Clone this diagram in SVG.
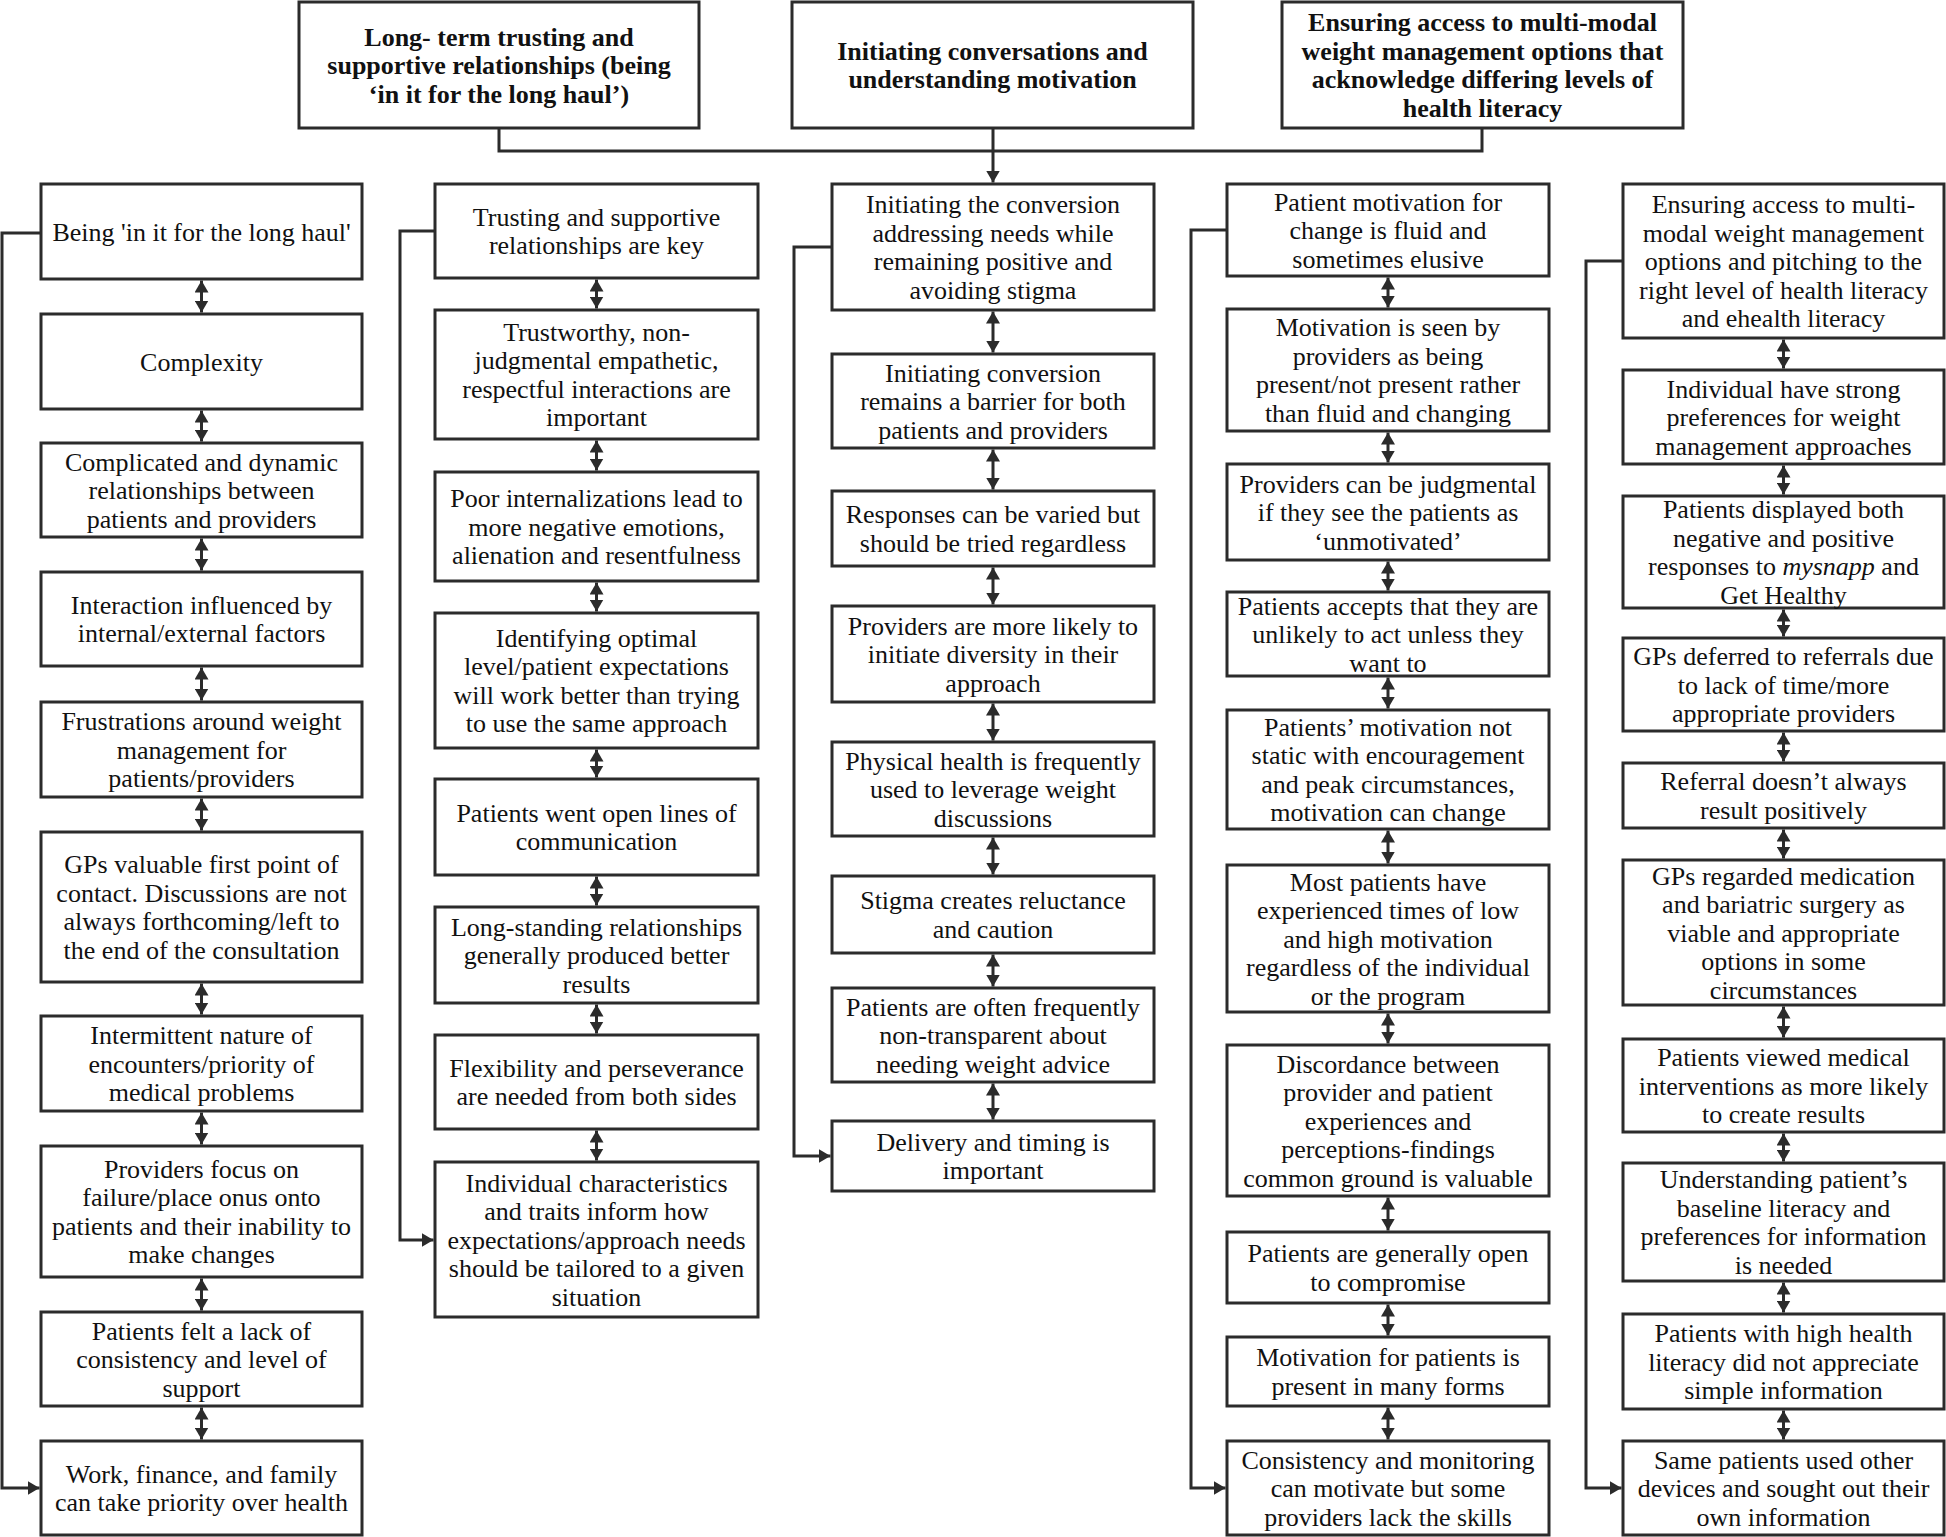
<svg xmlns="http://www.w3.org/2000/svg" width="1946" height="1537" viewBox="0 0 1946 1537">
<style>
.box{fill:#fff;stroke:#2b2b2b;stroke-width:3}
.t{font-family:"Liberation Serif","Times New Roman",serif;font-size:26px;fill:#111;text-anchor:middle}
.h{font-weight:bold}
.c{fill:none;stroke:#2b2b2b;stroke-width:3}
.d{fill:none;stroke:#2b2b2b;stroke-width:3;marker-start:url(#ah);marker-end:url(#ah)}
.e{fill:none;stroke:#2b2b2b;stroke-width:3;marker-end:url(#ah)}
</style>
<defs>
<marker id="ah" viewBox="0 0 12 14" refX="12" refY="7" markerWidth="12" markerHeight="14" markerUnits="userSpaceOnUse" orient="auto-start-reverse"><path d="M0,0 L12,7 L0,14 z" fill="#2b2b2b"/></marker>
</defs>
<rect width="1946" height="1537" fill="#fff"/>

<g id="connectors">
<path class="c" d="M499,128 V151 H1482 V128"/>
<path class="e" d="M993,128 V182.5"/>
<path class="e" d="M41,233 H2 V1488 H39.5"/>
<path class="e" d="M435,231 H400 V1240 H433.5"/>
<path class="e" d="M832,247 H794 V1156 H830.5"/>
<path class="e" d="M1227,230 H1191 V1488 H1225.5"/>
<path class="e" d="M1623,261 H1586 V1488 H1621.5"/>
<!-- col1 -->
<path class="d" d="M201.5,280.5 V312.5"/>
<path class="d" d="M201.5,410.5 V441.5"/>
<path class="d" d="M201.5,538.5 V570.5"/>
<path class="d" d="M201.5,667.5 V700.5"/>
<path class="d" d="M201.5,798.5 V830.5"/>
<path class="d" d="M201.5,983.5 V1014.5"/>
<path class="d" d="M201.5,1112.5 V1144.5"/>
<path class="d" d="M201.5,1278.5 V1310.5"/>
<path class="d" d="M201.5,1407.5 V1439.5"/>
<!-- col2 -->
<path class="d" d="M596.5,279.5 V308.5"/>
<path class="d" d="M596.5,440.5 V470.5"/>
<path class="d" d="M596.5,582.5 V611.5"/>
<path class="d" d="M596.5,749.5 V777.5"/>
<path class="d" d="M596.5,876.5 V905.5"/>
<path class="d" d="M596.5,1004.5 V1033.5"/>
<path class="d" d="M596.5,1130.5 V1160.5"/>
<!-- col3 -->
<path class="d" d="M993,311.5 V352.5"/>
<path class="d" d="M993,449.5 V489.5"/>
<path class="d" d="M993,567.5 V604.5"/>
<path class="d" d="M993,703.5 V740.5"/>
<path class="d" d="M993,837.5 V874.5"/>
<path class="d" d="M993,954.5 V986.5"/>
<path class="d" d="M993,1083.5 V1119.5"/>
<!-- col4 -->
<path class="d" d="M1388,277.5 V307.5"/>
<path class="d" d="M1388,432.5 V462.5"/>
<path class="d" d="M1388,561.5 V590.5"/>
<path class="d" d="M1388,677.5 V708.5"/>
<path class="d" d="M1388,830.5 V863.5"/>
<path class="d" d="M1388,1013.5 V1043.5"/>
<path class="d" d="M1388,1197.5 V1230.5"/>
<path class="d" d="M1388,1304.5 V1335.5"/>
<path class="d" d="M1388,1407.5 V1439.5"/>
<!-- col5 -->
<path class="d" d="M1783.5,339.5 V368.5"/>
<path class="d" d="M1783.5,465.5 V494.5"/>
<path class="d" d="M1783.5,609.5 V636.5"/>
<path class="d" d="M1783.5,732.5 V761.5"/>
<path class="d" d="M1783.5,829.5 V858.5"/>
<path class="d" d="M1783.5,1006.5 V1037.5"/>
<path class="d" d="M1783.5,1133.5 V1161.5"/>
<path class="d" d="M1783.5,1282.5 V1312.5"/>
<path class="d" d="M1783.5,1410.5 V1439.5"/>
</g>

<!-- headers -->
<g id="h1"><rect class="box" x="299" y="2" width="400" height="126"/><text class="t h" x="499" y="45.5"><tspan x="499">Long- term trusting and</tspan><tspan x="499" dy="28.5">supportive relationships (being</tspan><tspan x="499" dy="28.5">‘in it for the long haul’)</tspan></text></g>
<g id="h2"><rect class="box" x="792" y="2" width="401" height="126"/><text class="t h" x="992.5" y="59.75"><tspan x="992.5">Initiating conversations and</tspan><tspan x="992.5" dy="28.5">understanding motivation</tspan></text></g>
<g id="h3"><rect class="box" x="1282" y="2" width="401" height="126"/><text class="t h" x="1482.5" y="31.25"><tspan x="1482.5">Ensuring access to multi-modal</tspan><tspan x="1482.5" dy="28.5">weight management options that</tspan><tspan x="1482.5" dy="28.5">acknowledge differing levels of</tspan><tspan x="1482.5" dy="28.5">health literacy</tspan></text></g>

<!-- column 1 -->
<g id="c1n1"><rect class="box" x="41" y="184" width="321" height="95"/><text class="t" x="201.5" y="240.5">Being 'in it for the long haul'</text></g>
<g id="c1n2"><rect class="box" x="41" y="314" width="321" height="95"/><text class="t" x="201.5" y="370.5">Complexity</text></g>
<g id="c1n3"><rect class="box" x="41" y="443" width="321" height="94"/><text class="t" x="201.5" y="470.5"><tspan x="201.5">Complicated and dynamic</tspan><tspan x="201.5" dy="28.5">relationships between</tspan><tspan x="201.5" dy="28.5">patients and providers</tspan></text></g>
<g id="c1n4"><rect class="box" x="41" y="572" width="321" height="94"/><text class="t" x="201.5" y="613.75"><tspan x="201.5">Interaction influenced by</tspan><tspan x="201.5" dy="28.5">internal/external factors</tspan></text></g>
<g id="c1n5"><rect class="box" x="41" y="702" width="321" height="95"/><text class="t" x="201.5" y="730"><tspan x="201.5">Frustrations around weight</tspan><tspan x="201.5" dy="28.5">management for</tspan><tspan x="201.5" dy="28.5">patients/providers</tspan></text></g>
<g id="c1n6"><rect class="box" x="41" y="832" width="321" height="150"/><text class="t" x="201.5" y="873.25"><tspan x="201.5">GPs valuable first point of</tspan><tspan x="201.5" dy="28.5">contact. Discussions are not</tspan><tspan x="201.5" dy="28.5">always forthcoming/left to</tspan><tspan x="201.5" dy="28.5">the end of the consultation</tspan></text></g>
<g id="c1n7"><rect class="box" x="41" y="1016" width="321" height="95"/><text class="t" x="201.5" y="1044"><tspan x="201.5">Intermittent nature of</tspan><tspan x="201.5" dy="28.5">encounters/priority of</tspan><tspan x="201.5" dy="28.5">medical problems</tspan></text></g>
<g id="c1n8"><rect class="box" x="41" y="1146" width="321" height="131"/><text class="t" x="201.5" y="1177.75"><tspan x="201.5">Providers focus on</tspan><tspan x="201.5" dy="28.5">failure/place onus onto</tspan><tspan x="201.5" dy="28.5">patients and their inability to</tspan><tspan x="201.5" dy="28.5">make changes</tspan></text></g>
<g id="c1n9"><rect class="box" x="41" y="1312" width="321" height="94"/><text class="t" x="201.5" y="1339.5"><tspan x="201.5">Patients felt a lack of</tspan><tspan x="201.5" dy="28.5">consistency and level of</tspan><tspan x="201.5" dy="28.5">support</tspan></text></g>
<g id="c1n10"><rect class="box" x="41" y="1441" width="321" height="94"/><text class="t" x="201.5" y="1482.75"><tspan x="201.5">Work, finance, and family</tspan><tspan x="201.5" dy="28.5">can take priority over health</tspan></text></g>

<!-- column 2 -->
<g id="c2n1"><rect class="box" x="435" y="184" width="323" height="94"/><text class="t" x="596.5" y="225.75"><tspan x="596.5">Trusting and supportive</tspan><tspan x="596.5" dy="28.5">relationships are key</tspan></text></g>
<g id="c2n2"><rect class="box" x="435" y="310" width="323" height="129"/><text class="t" x="596.5" y="340.75"><tspan x="596.5">Trustworthy, non-</tspan><tspan x="596.5" dy="28.5">judgmental empathetic,</tspan><tspan x="596.5" dy="28.5">respectful interactions are</tspan><tspan x="596.5" dy="28.5">important</tspan></text></g>
<g id="c2n3"><rect class="box" x="435" y="472" width="323" height="109"/><text class="t" x="596.5" y="507"><tspan x="596.5">Poor internalizations lead to</tspan><tspan x="596.5" dy="28.5">more negative emotions,</tspan><tspan x="596.5" dy="28.5">alienation and resentfulness</tspan></text></g>
<g id="c2n4"><rect class="box" x="435" y="613" width="323" height="135"/><text class="t" x="596.5" y="646.75"><tspan x="596.5">Identifying optimal</tspan><tspan x="596.5" dy="28.5">level/patient expectations</tspan><tspan x="596.5" dy="28.5">will work better than trying</tspan><tspan x="596.5" dy="28.5">to use the same approach</tspan></text></g>
<g id="c2n5"><rect class="box" x="435" y="779" width="323" height="96"/><text class="t" x="596.5" y="821.75"><tspan x="596.5">Patients went open lines of</tspan><tspan x="596.5" dy="28.5">communication</tspan></text></g>
<g id="c2n6"><rect class="box" x="435" y="907" width="323" height="96"/><text class="t" x="596.5" y="935.5"><tspan x="596.5">Long-standing relationships</tspan><tspan x="596.5" dy="28.5">generally produced better</tspan><tspan x="596.5" dy="28.5">results</tspan></text></g>
<g id="c2n7"><rect class="box" x="435" y="1035" width="323" height="94"/><text class="t" x="596.5" y="1076.75"><tspan x="596.5">Flexibility and perseverance</tspan><tspan x="596.5" dy="28.5">are needed from both sides</tspan></text></g>
<g id="c2n8"><rect class="box" x="435" y="1162" width="323" height="155"/><text class="t" x="596.5" y="1191.5"><tspan x="596.5">Individual characteristics</tspan><tspan x="596.5" dy="28.5">and traits inform how</tspan><tspan x="596.5" dy="28.5">expectations/approach needs</tspan><tspan x="596.5" dy="28.5">should be tailored to a given</tspan><tspan x="596.5" dy="28.5">situation</tspan></text></g>

<!-- column 3 -->
<g id="c3n1"><rect class="box" x="832" y="184" width="322" height="126"/><text class="t" x="993" y="213.25"><tspan x="993">Initiating the conversion</tspan><tspan x="993" dy="28.5">addressing needs while</tspan><tspan x="993" dy="28.5">remaining positive and</tspan><tspan x="993" dy="28.5">avoiding stigma</tspan></text></g>
<g id="c3n2"><rect class="box" x="832" y="354" width="322" height="94"/><text class="t" x="993" y="381.5"><tspan x="993">Initiating conversion</tspan><tspan x="993" dy="28.5">remains a barrier for both</tspan><tspan x="993" dy="28.5">patients and providers</tspan></text></g>
<g id="c3n3"><rect class="box" x="832" y="491" width="322" height="75"/><text class="t" x="993" y="523.25"><tspan x="993">Responses can be varied but</tspan><tspan x="993" dy="28.5">should be tried regardless</tspan></text></g>
<g id="c3n4"><rect class="box" x="832" y="606" width="322" height="96"/><text class="t" x="993" y="634.5"><tspan x="993">Providers are more likely to</tspan><tspan x="993" dy="28.5">initiate diversity in their</tspan><tspan x="993" dy="28.5">approach</tspan></text></g>
<g id="c3n5"><rect class="box" x="832" y="742" width="322" height="94"/><text class="t" x="993" y="769.5"><tspan x="993">Physical health is frequently</tspan><tspan x="993" dy="28.5">used to leverage weight</tspan><tspan x="993" dy="28.5">discussions</tspan></text></g>
<g id="c3n6"><rect class="box" x="832" y="876" width="322" height="77"/><text class="t" x="993" y="909.25"><tspan x="993">Stigma creates reluctance</tspan><tspan x="993" dy="28.5">and caution</tspan></text></g>
<g id="c3n7"><rect class="box" x="832" y="988" width="322" height="94"/><text class="t" x="993" y="1015.5"><tspan x="993">Patients are often frequently</tspan><tspan x="993" dy="28.5">non-transparent about</tspan><tspan x="993" dy="28.5">needing weight advice</tspan></text></g>
<g id="c3n8"><rect class="box" x="832" y="1121" width="322" height="70"/><text class="t" x="993" y="1150.75"><tspan x="993">Delivery and timing is</tspan><tspan x="993" dy="28.5">important</tspan></text></g>

<!-- column 4 -->
<g id="c4n1"><rect class="box" x="1227" y="184" width="322" height="92"/><text class="t" x="1388" y="210.5"><tspan x="1388">Patient motivation for</tspan><tspan x="1388" dy="28.5">change is fluid and</tspan><tspan x="1388" dy="28.5">sometimes elusive</tspan></text></g>
<g id="c4n2"><rect class="box" x="1227" y="309" width="322" height="122"/><text class="t" x="1388" y="336.25"><tspan x="1388">Motivation is seen by</tspan><tspan x="1388" dy="28.5">providers as being</tspan><tspan x="1388" dy="28.5">present/not present rather</tspan><tspan x="1388" dy="28.5">than fluid and changing</tspan></text></g>
<g id="c4n3"><rect class="box" x="1227" y="464" width="322" height="96"/><text class="t" x="1388" y="492.5"><tspan x="1388">Providers can be judgmental</tspan><tspan x="1388" dy="28.5">if they see the patients as</tspan><tspan x="1388" dy="28.5">‘unmotivated’</tspan></text></g>
<g id="c4n4"><rect class="box" x="1227" y="592" width="322" height="84"/><text class="t" x="1388" y="614.5"><tspan x="1388">Patients accepts that they are</tspan><tspan x="1388" dy="28.5">unlikely to act unless they</tspan><tspan x="1388" dy="28.5">want to</tspan></text></g>
<g id="c4n5"><rect class="box" x="1227" y="710" width="322" height="119"/><text class="t" x="1388" y="735.75"><tspan x="1388">Patients’ motivation not</tspan><tspan x="1388" dy="28.5">static with encouragement</tspan><tspan x="1388" dy="28.5">and peak circumstances,</tspan><tspan x="1388" dy="28.5">motivation can change</tspan></text></g>
<g id="c4n6"><rect class="box" x="1227" y="865" width="322" height="147"/><text class="t" x="1388" y="890.5"><tspan x="1388">Most patients have</tspan><tspan x="1388" dy="28.5">experienced times of low</tspan><tspan x="1388" dy="28.5">and high motivation</tspan><tspan x="1388" dy="28.5">regardless of the individual</tspan><tspan x="1388" dy="28.5">or the program</tspan></text></g>
<g id="c4n7"><rect class="box" x="1227" y="1045" width="322" height="151"/><text class="t" x="1388" y="1072.5"><tspan x="1388">Discordance between</tspan><tspan x="1388" dy="28.5">provider and patient</tspan><tspan x="1388" dy="28.5">experiences and</tspan><tspan x="1388" dy="28.5">perceptions-findings</tspan><tspan x="1388" dy="28.5">common ground is valuable</tspan></text></g>
<g id="c4n8"><rect class="box" x="1227" y="1232" width="322" height="71"/><text class="t" x="1388" y="1262.25"><tspan x="1388">Patients are generally open</tspan><tspan x="1388" dy="28.5">to compromise</tspan></text></g>
<g id="c4n9"><rect class="box" x="1227" y="1337" width="322" height="69"/><text class="t" x="1388" y="1366.25"><tspan x="1388">Motivation for patients is</tspan><tspan x="1388" dy="28.5">present in many forms</tspan></text></g>
<g id="c4n10"><rect class="box" x="1227" y="1441" width="322" height="94"/><text class="t" x="1388" y="1468.5"><tspan x="1388">Consistency and monitoring</tspan><tspan x="1388" dy="28.5">can motivate but some</tspan><tspan x="1388" dy="28.5">providers lack the skills</tspan></text></g>

<!-- column 5 -->
<g id="c5n1"><rect class="box" x="1623" y="184" width="321" height="154"/><text class="t" x="1783.5" y="213"><tspan x="1783.5">Ensuring access to multi-</tspan><tspan x="1783.5" dy="28.5">modal weight management</tspan><tspan x="1783.5" dy="28.5">options and pitching to the</tspan><tspan x="1783.5" dy="28.5">right level of health literacy</tspan><tspan x="1783.5" dy="28.5">and ehealth literacy</tspan></text></g>
<g id="c5n2"><rect class="box" x="1623" y="370" width="321" height="94"/><text class="t" x="1783.5" y="397.5"><tspan x="1783.5">Individual have strong</tspan><tspan x="1783.5" dy="28.5">preferences for weight</tspan><tspan x="1783.5" dy="28.5">management approaches</tspan></text></g>
<g id="c5n3"><rect class="box" x="1623" y="496" width="321" height="112"/><text class="t" x="1783.5" y="518.25"><tspan x="1783.5">Patients displayed both</tspan><tspan x="1783.5" dy="28.5">negative and positive</tspan><tspan x="1783.5" dy="28.5">responses to <tspan font-style="italic">mysnapp</tspan> and</tspan><tspan x="1783.5" dy="28.5">Get Healthy</tspan></text></g>
<g id="c5n4"><rect class="box" x="1623" y="638" width="321" height="93"/><text class="t" x="1783.5" y="665"><tspan x="1783.5">GPs deferred to referrals due</tspan><tspan x="1783.5" dy="28.5">to lack of time/more</tspan><tspan x="1783.5" dy="28.5">appropriate providers</tspan></text></g>
<g id="c5n5"><rect class="box" x="1623" y="763" width="321" height="65"/><text class="t" x="1783.5" y="790.25"><tspan x="1783.5">Referral doesn’t always</tspan><tspan x="1783.5" dy="28.5">result positively</tspan></text></g>
<g id="c5n6"><rect class="box" x="1623" y="860" width="321" height="145"/><text class="t" x="1783.5" y="884.5"><tspan x="1783.5">GPs regarded medication</tspan><tspan x="1783.5" dy="28.5">and bariatric surgery as</tspan><tspan x="1783.5" dy="28.5">viable and appropriate</tspan><tspan x="1783.5" dy="28.5">options in some</tspan><tspan x="1783.5" dy="28.5">circumstances</tspan></text></g>
<g id="c5n7"><rect class="box" x="1623" y="1039" width="321" height="93"/><text class="t" x="1783.5" y="1066"><tspan x="1783.5">Patients viewed medical</tspan><tspan x="1783.5" dy="28.5">interventions as more likely</tspan><tspan x="1783.5" dy="28.5">to create results</tspan></text></g>
<g id="c5n8"><rect class="box" x="1623" y="1163" width="321" height="118"/><text class="t" x="1783.5" y="1188.25"><tspan x="1783.5">Understanding patient’s</tspan><tspan x="1783.5" dy="28.5">baseline literacy and</tspan><tspan x="1783.5" dy="28.5">preferences for information</tspan><tspan x="1783.5" dy="28.5">is needed</tspan></text></g>
<g id="c5n9"><rect class="box" x="1623" y="1314" width="321" height="95"/><text class="t" x="1783.5" y="1342"><tspan x="1783.5">Patients with high health</tspan><tspan x="1783.5" dy="28.5">literacy did not appreciate</tspan><tspan x="1783.5" dy="28.5">simple information</tspan></text></g>
<g id="c5n10"><rect class="box" x="1623" y="1441" width="321" height="94"/><text class="t" x="1783.5" y="1468.5"><tspan x="1783.5">Same patients used other</tspan><tspan x="1783.5" dy="28.5">devices and sought out their</tspan><tspan x="1783.5" dy="28.5">own information</tspan></text></g>
</svg>
